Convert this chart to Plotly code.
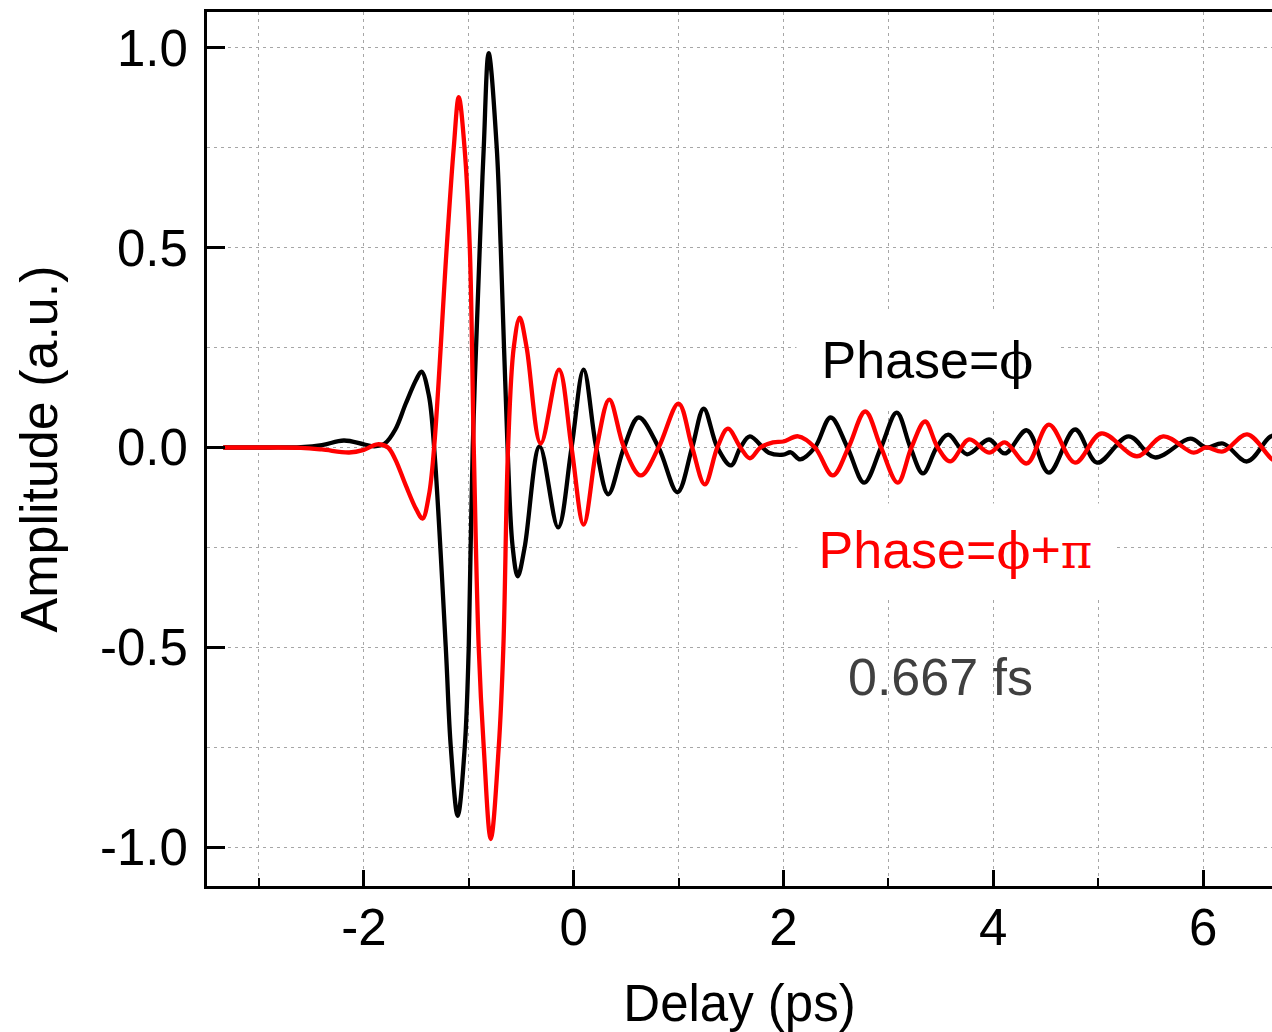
import plotly.graph_objects as go

# ── DATA ───────────────────────────────────────────────────────
delay_phi = [
    -3.34, -2.9, -2.6, -2.4, -2.19, -2.0, -1.9, -1.8, -1.7, -1.6,
    -1.5, -1.45, -1.38, -1.33, -1.219, -1.171, -1.105, -1.038, -1.0, -0.962,
    -0.895, -0.857, -0.81, -0.733, -0.695, -0.63, -0.581, -0.533, -0.467, -0.324,
    -0.148, -0.02, 0.095, 0.215, 0.33, 0.48, 0.62, 0.81, 0.99, 1.13,
    1.24, 1.37, 1.50, 1.59, 1.68, 1.86, 2.0, 2.07, 2.16, 2.3,
    2.45, 2.61, 2.77, 2.93, 3.08, 3.21, 3.33, 3.46, 3.57, 3.75,
    3.96, 4.11, 4.32, 4.53, 4.78, 4.99, 5.29, 5.54, 5.88, 6.03,
    6.19, 6.42, 6.64, 6.75,
]
amp_phi = [
    0.0, 0.0, 0.001, 0.006, 0.0175, 0.008, 0.003, 0.01, 0.045, 0.11,
    0.17, 0.19, 0.13, 0.0, -0.5, -0.75, -0.922, -0.75, -0.5, 0.0,
    0.5, 0.75, 0.987, 0.75, 0.5, 0.0, -0.25, -0.3225, -0.25, 0.003,
    -0.2, 0.0, 0.195, 0.0, -0.117, 0.0, 0.075, 0.0, -0.112, 0.0,
    0.097, 0.0, -0.045, 0.0, 0.028, -0.013, -0.018, -0.012, -0.03, 0.0,
    0.075, 0.0, -0.088, 0.0, 0.087, 0.0, -0.065, 0.0, 0.032, -0.017,
    0.02, -0.015, 0.043, -0.063, 0.045, -0.038, 0.028, -0.025, 0.022, 0.0,
    0.01, -0.035, 0.027, 0.035,
]

delay_phi_pi = [
    -3.34, -2.9, -2.6, -2.4, -2.14, -2.0, -1.87, -1.77, -1.7, -1.6,
    -1.5, -1.44, -1.38, -1.33, -1.21, -1.143, -1.095, -1.04, -0.99, -0.952,
    -0.905, -0.857, -0.79, -0.714, -0.67, -0.625, -0.571, -0.514, -0.448, -0.314,
    -0.14, -0.02, 0.095, 0.22, 0.34, 0.48, 0.64, 0.81, 1.0, 1.13,
    1.25, 1.37, 1.47, 1.59, 1.68, 1.78, 1.9, 2.0, 2.14, 2.3,
    2.47, 2.62, 2.78, 2.93, 3.09, 3.22, 3.35, 3.47, 3.59, 3.77,
    3.96, 4.11, 4.32, 4.53, 4.78, 5.03, 5.37, 5.62, 5.91, 6.03,
    6.19, 6.42, 6.66, 6.75,
]
amp_phi_pi = [
    0.0, 0.0, -0.001, -0.005, -0.0125, -0.006, 0.008, 0.0, -0.03, -0.095,
    -0.155, -0.178, -0.12, 0.0, 0.5, 0.75, 0.877, 0.75, 0.5, 0.0,
    -0.5, -0.75, -0.98, -0.75, -0.5, 0.0, 0.25, 0.325, 0.25, 0.01,
    0.195, 0.0, -0.193, 0.0, 0.12, 0.0, -0.07, 0.0, 0.11, 0.0,
    -0.0925, 0.0, 0.047, 0.0, -0.027, 0.0, 0.013, 0.015, 0.028, 0.0,
    -0.07, 0.0, 0.09, 0.0, -0.088, 0.0, 0.065, 0.0, -0.035, 0.02,
    -0.013, 0.013, -0.04, 0.057, -0.038, 0.035, -0.022, 0.028, -0.013, 0.0,
    -0.01, 0.033, -0.03, -0.04,
]

x_tickvals = [-2, 0, 2, 4, 6]
x_ticktext = ['-2', '0', '2', '4', '6']
y_tickvals = [-1.0, -0.5, 0.0, 0.5, 1.0]
y_ticktext = ['-1.0', '-0.5', '0.0', '0.5', '1.0']

FONT = 'Liberation Sans, Arial, sans-serif'
PHI = '<span style="font-family:DejaVu Serif; font-size:50px">ϕ</span>'
PI = '<span style="font-family:DejaVu Serif; font-size:48px">π</span>'
GRID = dict(showgrid=True, gridcolor='#a6a6a6', gridwidth=1.3, griddash='3px,4px')

fig = go.Figure()
fig.add_trace(go.Scatter(
    x=delay_phi, y=amp_phi, mode='lines',
    line=dict(color='#000000', width=4.3, shape='spline', smoothing=1.0),
    showlegend=False,
))
fig.add_trace(go.Scatter(
    x=delay_phi_pi, y=amp_phi_pi, mode='lines',
    line=dict(color='#ff0000', width=4.3, shape='spline', smoothing=1.0),
    showlegend=False,
))

fig.update_layout(
    width=1272, height=1032,
    paper_bgcolor='white', plot_bgcolor='white',
    font=dict(family=FONT, size=51, color='black'),
    margin=dict(l=207, r=0, t=12, b=146),
    xaxis=dict(
        range=[-3.495, 6.657],
        tickmode='array', tickvals=x_tickvals, ticktext=x_ticktext,
        ticks='inside', ticklen=16, tickwidth=3, tickcolor='black',
        ticklabelstandoff=-5,
        showline=True, linewidth=3, linecolor='black', mirror=True,
        zeroline=False,
        minor=dict(tickmode='linear', tick0=-3, dtick=1,
                   ticks='inside', ticklen=8, tickwidth=2, tickcolor='black', **GRID),
        title=dict(text='Delay (ps)', standoff=37, font=dict(size=51)),
        **GRID,
    ),
    yaxis=dict(
        range=[-1.0976, 1.09],
        tickmode='array', tickvals=y_tickvals, ticktext=y_ticktext,
        ticks='inside', ticklen=18, tickwidth=3, tickcolor='black',
        ticklabelstandoff=6,
        showline=True, linewidth=3, linecolor='black', mirror=False,
        zeroline=False,
        minor=dict(tickmode='linear', tick0=0, dtick=0.25, ticks='', **GRID),
        title=dict(text='Amplitude (a.u.)', standoff=26, font=dict(size=52)),
        **GRID,
    ),
)

fig.add_annotation(
    x=3.376, y=0.22, xref='x', yref='y', showarrow=False,
    text='Phase=' + PHI, font=dict(size=52, color='black'),
    bgcolor='white', width=261, height=96, borderpad=0, align='center',
)
fig.add_annotation(
    x=3.643, y=-0.2575, xref='x', yref='y', showarrow=False,
    text='Phase=' + PHI + '+' + PI, font=dict(size=52, color='#ff0000'),
    bgcolor='white', width=315, height=92, borderpad=0, align='center',
)
fig.add_annotation(
    x=3.495, y=-0.575, xref='x', yref='y', showarrow=False,
    text='0.667 fs', font=dict(size=52, color='#404040'),
)

# drop the browser's default 8px body margin so the figure fills the window
fig.write_html(
    'out.html',
    config={'displayModeBar': False},
    post_script="document.body.style.margin='0';",
)
